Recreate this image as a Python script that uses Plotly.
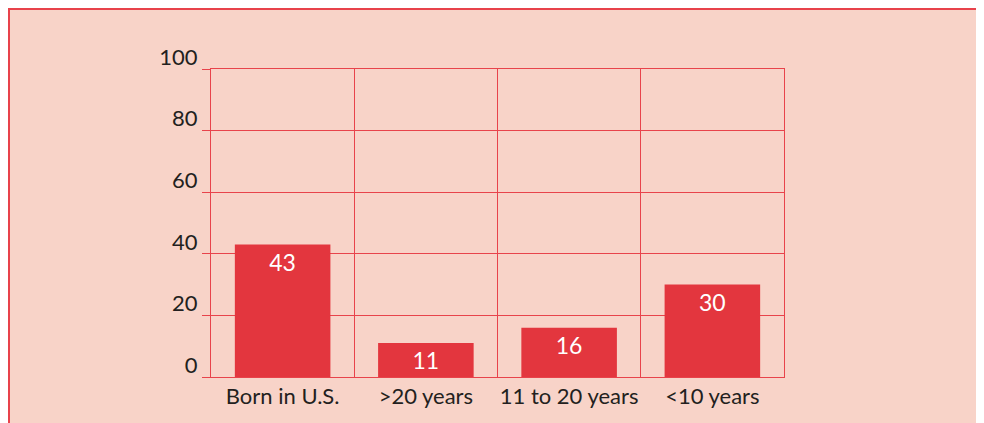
import plotly.graph_objects as go

categories = ["Born in U.S.", ">20 years", "11 to 20 years", "<10 years"]
values = [43, 11, 16, 30]
y_ticks = [0, 20, 40, 60, 80, 100]

RED = "#E3363E"
GRID = "#E8434B"
BG = "#F8D3C8"
FONT = "Lato, 'Open Sans', sans-serif"

OFF = 8  # page body margin
W, H = 984 - 2 * OFF, 423 - OFF
L, T = 211 - OFF, 69 - OFF
R = W - (784 - OFF)
B = H - (377 - OFF)
pw = W - L - R
ph = H - T - B

fig = go.Figure(go.Bar(
    x=categories, y=values, marker_color=RED, marker_line_width=0,
    width=0.667,
    text=[str(v) for v in values], textposition="inside",
    insidetextanchor="end", textangle=0, constraintext="none",
    textfont=dict(color="white", size=23, family=FONT),
    cliponaxis=False,
))

# top and left border of the panel
fig.add_shape(type="line", xref="paper", yref="paper", layer="below",
              x0=(0 - L) / pw, x1=(W + 5 - L) / pw,
              y0=(H - B - 1) / ph, y1=(H - B - 1) / ph,
              line=dict(color=GRID, width=2))
fig.add_shape(type="line", xref="paper", yref="paper", layer="below",
              x0=(1 - L) / pw, x1=(1 - L) / pw,
              y0=(H - B - (H + 5)) / ph, y1=(H - B) / ph,
              line=dict(color=GRID, width=2))

fig.update_layout(
    width=W, height=H,
    margin=dict(l=L, r=R, t=T, b=B, autoexpand=False),
    paper_bgcolor=BG, plot_bgcolor="rgba(0,0,0,0)",
    showlegend=False,
    font=dict(family=FONT, color="#231F20", size=22),
    bargap=0.333, uniformtext=dict(mode=False),
)
fig.update_xaxes(
    type="category", tickson="boundaries", showgrid=True, gridcolor=GRID, gridwidth=1,
    showline=True, linecolor=GRID, linewidth=1, mirror=True, ticks="",
    tickangle=0, automargin=False,
    tickfont=dict(size=22, family=FONT, color="#231F20"),
)
fig.update_yaxes(
    range=[0, 100], tickvals=y_ticks, ticktext=[str(v) for v in y_ticks],
    showgrid=True, gridcolor=GRID, gridwidth=1, zeroline=False,
    showline=True, linecolor=GRID, linewidth=1, mirror=True,
    ticks="outside", ticklen=8, tickcolor=GRID, tickwidth=1,
    ticklabelshift=-12, ticklabelstandoff=0, automargin=False,
    tickfont=dict(size=22, family=FONT, color="#231F20"),
)

fig.write_html("out.html")
